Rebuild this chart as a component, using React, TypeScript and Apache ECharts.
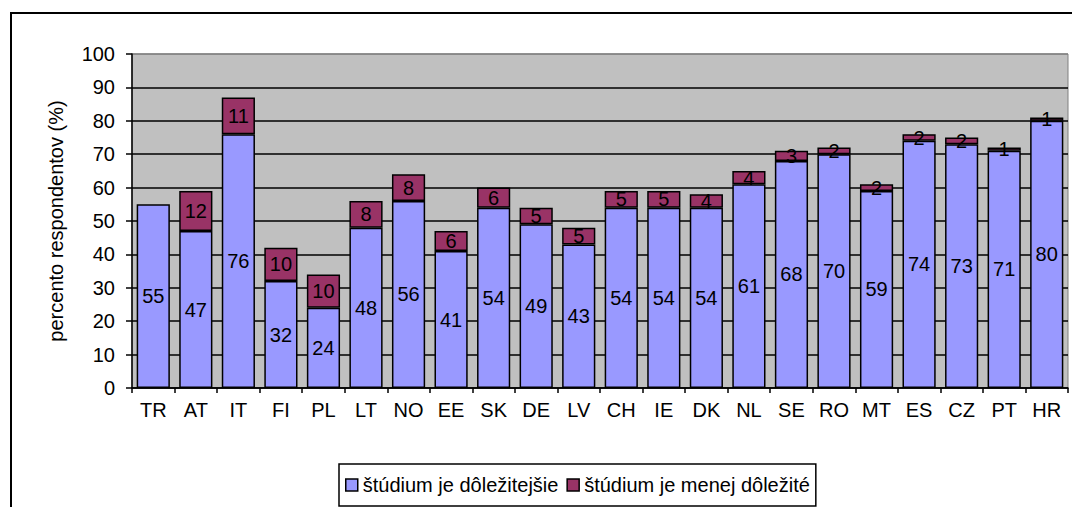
import React, { useEffect, useRef } from "react";
import * as echarts from "echarts";

const categories = ["TR","AT","IT","FI","PL","LT","NO","EE","SK","DE","LV","CH","IE","DK","NL","SE","RO","MT","ES","CZ","PT","HR"];
const moreImportant = [55,47,76,32,24,48,56,41,54,49,43,54,54,54,61,68,70,59,74,73,71,80];
const lessImportant = [null,12,11,10,10,8,8,6,6,5,5,5,5,4,4,3,2,2,2,2,1,1];
const yTicks = { min: 0, max: 100, interval: 10 };
const seriesNames = ["štúdium je dôležitejšie", "štúdium je menej dôležité"];

const FONT = "'Liberation Sans', Arial, sans-serif";
const FS = 20;

export default function App() {
  const ref = useRef<HTMLDivElement>(null);
  useEffect(() => {
    document.body.style.margin = "0";
    const chart = echarts.init(ref.current!, null, { renderer: "svg" });
    const labelStyle = {
      show: true,
      position: "inside" as const,
      color: "#000",
      fontFamily: FONT,
      fontSize: FS,
    };
    chart.setOption({
      animation: false,
      textStyle: { fontFamily: FONT, color: "#000" },
      graphic: [
        {
          type: "rect",
          shape: { x: 11, y: 13, width: 1100, height: 540 },
          style: { fill: "none", stroke: "#000", lineWidth: 2 },
          silent: true,
          z: -10,
        },
      ],
      grid: {
        left: 132,
        right: 4,
        top: 54,
        bottom: 119,
        show: true,
        backgroundColor: "#c0c0c0",
        borderColor: "#808080",
        borderWidth: 1,
      },
      legend: {
        bottom: 1,
        left: 339,
        itemWidth: 12,
        itemHeight: 12,
        itemGap: 8,
        itemTextGap: 6,
        padding: [11, 6, 11, 6],
        borderColor: "#000",
        borderWidth: 1.5,
        backgroundColor: "#fff",
        textStyle: { fontFamily: FONT, fontSize: FS, color: "#000" },
        data: seriesNames.map((n) => ({ name: n, icon: "rect", itemStyle: { borderColor: "#000", borderWidth: 1.5 } })),
      },
      xAxis: {
        type: "category",
        data: categories,
        axisLine: { lineStyle: { color: "#000", width: 1.5 } },
        axisTick: { show: true, length: 5, lineStyle: { color: "#000", width: 1.5 } },
        axisLabel: { color: "#000", fontFamily: FONT, fontSize: FS, margin: 12, interval: 0 },
      },
      yAxis: {
        type: "value",
        min: yTicks.min,
        max: yTicks.max,
        interval: yTicks.interval,
        name: "percento respondentov (%)",
        nameLocation: "middle",
        nameGap: 66,
        nameRotate: 90,
        nameTextStyle: { color: "#000", fontFamily: FONT, fontSize: FS },
        axisLine: { show: true, lineStyle: { color: "#000", width: 1.5 } },
        axisTick: { show: true, length: 6, lineStyle: { color: "#000", width: 1.5 } },
        axisLabel: { color: "#000", fontFamily: FONT, fontSize: FS, margin: 17 },
        splitLine: {
          show: true,
          lineStyle: {
            color: ["#000","#000","#000","#000","#000","#000","#000","#000","#000","#000","#808080"],
            width: 1.5,
          },
        },
      },
      series: [
        {
          name: seriesNames[0],
          type: "bar",
          stack: "total",
          data: moreImportant,
          barCategoryGap: "22%",
          itemStyle: { color: "#9999ff", borderColor: "#000", borderWidth: 1.5 },
          label: labelStyle,
        },
        {
          name: seriesNames[1],
          type: "bar",
          stack: "total",
          data: lessImportant,
          barCategoryGap: "22%",
          itemStyle: { color: "#993366", borderColor: "#000", borderWidth: 1.5 },
          label: labelStyle,
        },
      ],
    });
    return () => chart.dispose();
  }, []);
  return <div ref={ref} style={{ width: 1072, height: 507 }} />;
}
